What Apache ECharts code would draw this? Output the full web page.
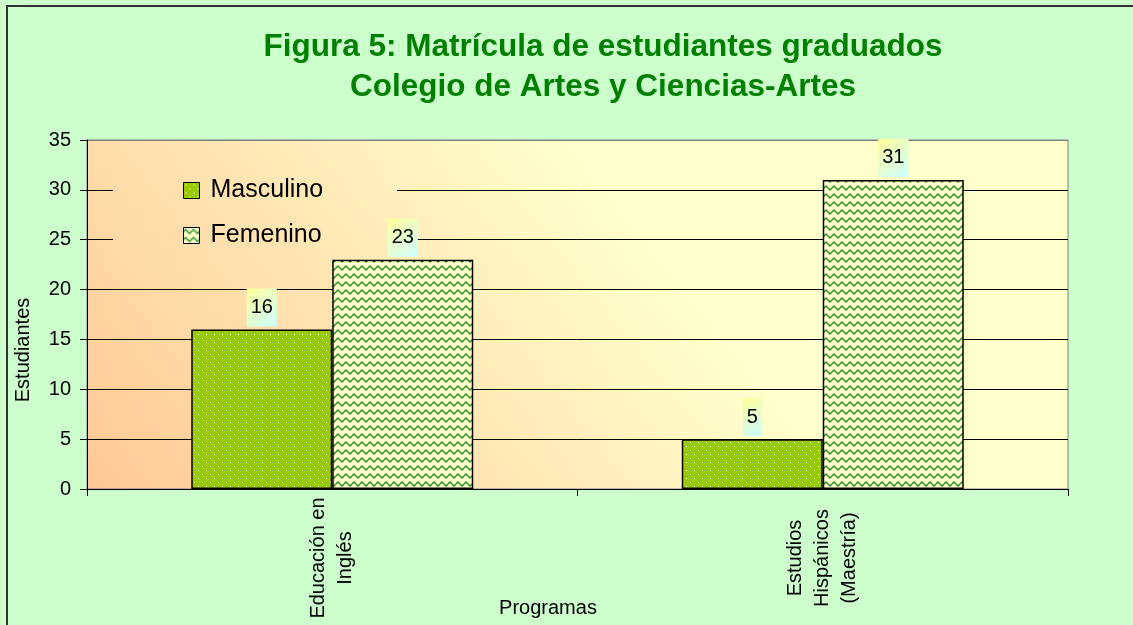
<!DOCTYPE html>
<html>
<head>
<meta charset="utf-8">
<script src="https://cdn.jsdelivr.net/npm/echarts@6/dist/echarts.min.js"></script>
<style>html,body{margin:0;padding:0;background:#CCFFCC;}#c{width:1133px;height:625px;}</style>
</head>
<body>
<div id="c"></div>
<script>
const titleLines = ['Figura 5: Matrícula de estudiantes graduados', 'Colegio de Artes y Ciencias-Artes'];
const categories = ['Educación en\nInglés', 'Estudios\nHispánicos\n(Maestría)'];
const seriesNames = ['Masculino', 'Femenino'];
const masculino = [16, 5];
const femenino = [23, 31];
const yTicks = { min: 0, max: 35, interval: 5 };
const yName = 'Estudiantes';
const xName = 'Programas';

const FONT = '"Liberation Sans", Arial, sans-serif';

function dotPattern() {
  const c = document.createElement('canvas');
  c.width = 8; c.height = 8;
  const g = c.getContext('2d');
  g.fillStyle = '#99CC00'; g.fillRect(0, 0, 8, 8);
  g.fillStyle = '#FFFFFF';
  g.fillRect(2, 2, 1, 1);
  g.fillRect(6, 6, 1, 1);
  return c;
}
function wavePattern() {
  const c = document.createElement('canvas');
  c.width = 8; c.height = 8;
  const g = c.getContext('2d');
  g.fillStyle = '#FFFFCC'; g.fillRect(0, 0, 8, 8);
  g.strokeStyle = '#259025'; g.lineWidth = 1.4;
  g.beginPath();
  g.moveTo(-2, 6); g.lineTo(0, 4); g.lineTo(2, 2); g.lineTo(4, 4); g.lineTo(6, 6); g.lineTo(8, 4); g.lineTo(10, 2);
  g.stroke();
  return c;
}

const plotGrad = () => ({
  type: 'linear', x: 87, y: 489, x2: 700, y2: 0, global: true,
  colorStops: [{ offset: 0, color: '#FFC896' }, { offset: 0.75, color: '#FFFFCC' }, { offset: 1, color: '#FFFFCC' }]
});

const labelBg = { type: 'linear', x: 0, y: 0, x2: 1, y2: 1, colorStops: [{ offset: 0, color: '#FFFF99' }, { offset: 1, color: '#CCFFFF' }] };
const labelCfg = {
  show: true, position: 'top', distance: 3, color: '#000', fontFamily: FONT, fontSize: 20,
  backgroundColor: labelBg, padding: [8, 4, 8, 4], lineHeight: 22
};

const chart = echarts.init(document.getElementById('c'));
chart.setOption({
  backgroundColor: '#CCFFCC',
  animation: false,
  title: {
    text: titleLines.join('\n'), left: 598, textAlign: 'center', top: 22,
    textStyle: { fontFamily: FONT, fontSize: 31.5, fontWeight: 'bold', color: '#008000', lineHeight: 40 }
  },
  legend: {
    orient: 'vertical', left: 183, top: 178, padding: 0, itemWidth: 16, itemHeight: 16, itemGap: 20,
    icon: 'rect',
    itemStyle: { borderColor: '#000', borderWidth: 1 },
    textStyle: { fontFamily: FONT, fontSize: 25, color: '#000', lineHeight: 25, padding: [0, 0, 0, 6] },
    data: seriesNames
  },
  grid: {
    left: 87, right: 65, top: 140, bottom: 136, show: true, borderColor: '#808080', borderWidth: 1,
    backgroundColor: plotGrad()
  },
  xAxis: {
    type: 'category', data: categories,
    axisLine: { lineStyle: { color: '#000', width: 1 } },
    axisTick: { show: true, length: 7, lineStyle: { color: '#000' } },
    axisLabel: { rotate: 90, align: 'center', verticalAlign: 'middle', margin: 69, fontFamily: FONT, fontSize: 20, lineHeight: 27, color: '#000' }
  },
  yAxis: {
    type: 'value', min: yTicks.min, max: yTicks.max, interval: yTicks.interval,
    axisLine: { show: true, lineStyle: { color: '#000', width: 1 } },
    axisTick: { show: true, length: 7, lineStyle: { color: '#000' } },
    axisLabel: { fontFamily: FONT, fontSize: 20, color: '#000', margin: 16 },
    splitLine: { show: true, lineStyle: { color: ['#000', '#000', '#000', '#000', '#000', '#000', '#000', '#808080'], width: 1 } }
  },
  series: [
    {
      name: seriesNames[0], type: 'bar', data: masculino, barWidth: 141, barGap: '0%',
      itemStyle: { color: { image: dotPattern(), repeat: 'repeat' }, borderColor: '#000', borderWidth: 1.5 },
      label: labelCfg
    },
    {
      name: seriesNames[1], type: 'bar', data: femenino, barWidth: 141, barGap: '0%',
      itemStyle: { color: { image: wavePattern(), repeat: 'repeat' }, borderColor: '#000', borderWidth: 1.5 },
      label: labelCfg
    }
  ],
  graphic: [
    { type: 'rect', z: 1, silent: true, shape: { x: 113, y: 160, width: 284, height: 103 }, style: { fill: plotGrad(), stroke: null } },
    { type: 'rect', shape: { x: 7, y: 6, width: 1300, height: 800 }, style: { fill: null, stroke: '#333', lineWidth: 2 }, silent: true },
    { type: 'text', x: 23, y: 350, rotation: Math.PI / 2, style: { text: yName, fontFamily: FONT, fontSize: 20, fill: '#000', align: 'center', verticalAlign: 'middle' } },
    { type: 'text', x: 548, y: 608, style: { text: xName, fontFamily: FONT, fontSize: 20, fill: '#000', align: 'center', verticalAlign: 'middle' } }
  ]
});
</script>
</body>
</html>
